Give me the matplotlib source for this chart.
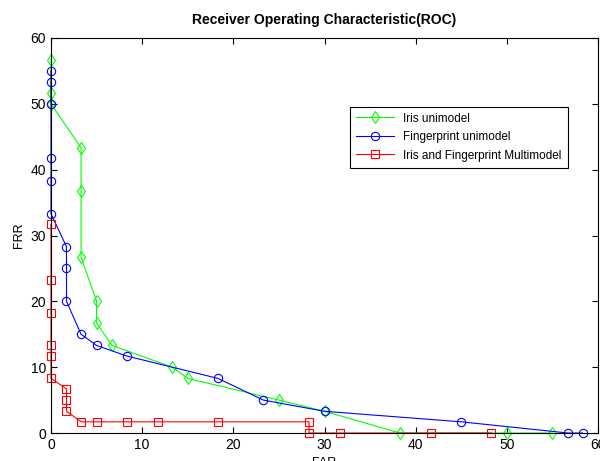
import matplotlib
matplotlib.use('Agg')
import matplotlib.pyplot as plt

plt.rcParams.update({
    'font.family': ['Liberation Sans', 'DejaVu Sans'],
    'font.size': 9,
    'xtick.direction': 'in',
    'ytick.direction': 'in',
    'xtick.top': True,
    'ytick.right': True,
})

# data
iris_far = [0, 0, 0, 3.3, 3.3, 3.3, 5, 5, 6.7, 13.3, 15, 25, 30, 38.3, 50, 55]
iris_frr = [56.7, 51.7, 50, 43.3, 36.7, 26.7, 20, 16.7, 13.3, 10, 8.3, 5, 3.3, 0, 0, 0]

finger_far = [0, 0, 0, 0, 0, 0, 1.7, 1.7, 1.7, 3.3, 5, 8.3, 18.3, 23.3, 30, 45, 56.7, 58.3]
finger_frr = [55, 53.3, 50, 41.7, 38.3, 33.3, 28.3, 25, 20, 15, 13.3, 11.7, 8.3, 5, 3.3, 1.7, 0, 0]

multi_far = [0, 0, 0, 0, 0, 0, 1.7, 1.7, 1.7, 3.3, 5, 8.3, 11.7, 18.3, 28.3, 28.3, 31.7, 41.7, 48.3]
multi_frr = [31.7, 23.3, 18.3, 13.3, 11.7, 8.3, 6.7, 5, 3.3, 1.7, 1.7, 1.7, 1.7, 1.7, 1.7, 0, 0, 0, 0]

fig = plt.figure(figsize=(6.0, 4.61), dpi=100)
ax = fig.add_axes([0.085, 0.0607, 0.9117, 0.8569])

mk = dict(markerfacecolor='none', markersize=6, markeredgewidth=0.8, linewidth=0.8,
          clip_on=False)
ax.plot(iris_far, iris_frr, color='#00ff00', marker='d', label='Iris unimodel', **mk)
ax.plot(finger_far, finger_frr, color='#0000ff', marker='o', label='Fingerprint unimodel', **mk)
ax.plot(multi_far, multi_frr, color='#ff0000', marker='s', label='Iris and Fingerprint Multimodel', **mk)

ax.set_xlim(0, 60)
ax.set_ylim(0, 60)
ax.set_xticks(range(0, 61, 10))
ax.set_yticks(range(0, 61, 10))
ax.tick_params(length=4, width=0.8, labelsize=10)
for s in ax.spines.values():
    s.set_linewidth(0.8)
    s.set_zorder(3)

ax.set_title('Receiver Operating Characteristic(ROC)', fontweight='bold', fontsize=10, pad=10)
ax.set_xlabel('FAR', fontsize=9)
ax.set_ylabel('FRR', fontsize=9)

leg = ax.legend(loc='upper left', bbox_to_anchor=(0.547, 0.826), fontsize=8.5,
                frameon=True, fancybox=False, edgecolor='black', framealpha=1,
                borderpad=0.5, labelspacing=0.55, handlelength=3.2, borderaxespad=0)
leg.get_frame().set_linewidth(0.8)

fig.savefig('out.png', dpi=100)
